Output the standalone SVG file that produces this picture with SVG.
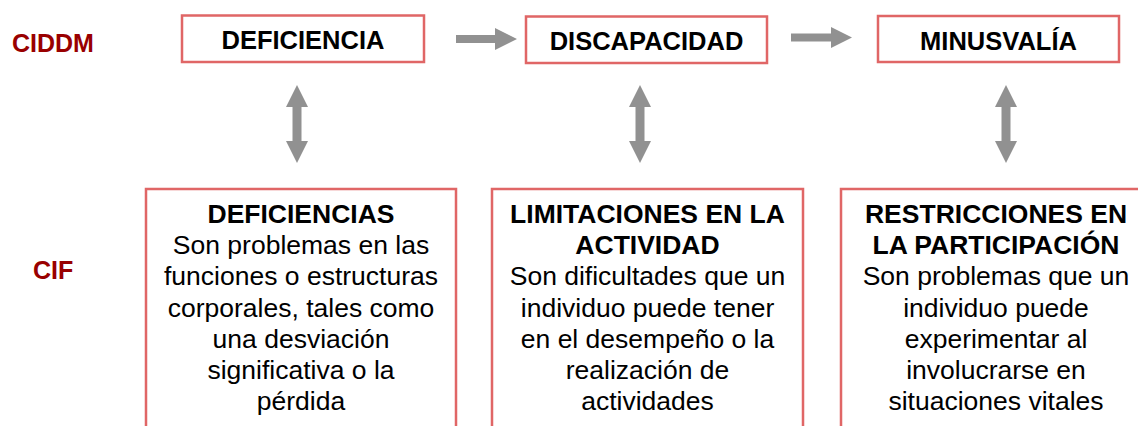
<svg xmlns="http://www.w3.org/2000/svg" width="1138" height="426" viewBox="0 0 1138 426">
<style>
.box{fill:#ffffff;stroke:#e06666;stroke-width:2.5}
.t{font-family:"Liberation Sans",Arial,sans-serif;fill:#000;text-anchor:middle}
.h{font-weight:bold;font-size:25.5px}
.hb{font-weight:bold;font-size:26.5px}
.b{font-size:26.5px}
.lab{font-family:"Liberation Sans",Arial,sans-serif;font-weight:bold;font-size:25px;fill:#990000}
.arr{fill:#919191}
</style>
<rect width="1138" height="426" fill="#ffffff"/>
<text class="lab" x="12" y="52">CIDDM</text>
<text class="lab" x="33" y="279">CIF</text>
<g id="connectors">
  <polygon class="arr" points="456,35 495,35 495,28 517,39 495,50 495,43 456,43"/>
  <polygon class="arr" points="791,33.5 831,33.5 831,27 852,37.5 831,48 831,41.5 791,41.5"/>
  <polygon class="arr" points="297,85 308,107 301.5,107 301.5,141 308,141 297,163 286,141 292.5,141 292.5,107 286,107"/>
  <polygon class="arr" points="640,85 651,107 644.5,107 644.5,141 651,141 640,163 629,141 635.5,141 635.5,107 629,107"/>
  <polygon class="arr" points="1006,85 1017,107 1010.5,107 1010.5,141 1017,141 1006,163 995,141 1001.5,141 1001.5,107 995,107"/>
</g>
<g id="deficiencia">
  <rect class="box" x="182" y="15.5" width="242" height="46.5"/>
  <text class="t h" x="303" y="48.5">DEFICIENCIA</text>
</g>
<g id="discapacidad">
  <rect class="box" x="526" y="16.5" width="241" height="46.5"/>
  <text class="t h" x="646.5" y="49.5">DISCAPACIDAD</text>
</g>
<g id="minusvalia">
  <rect class="box" x="878" y="16" width="241" height="46"/>
  <text class="t h" x="998.5" y="49.5">MINUSVALÍA</text>
</g>
<g id="deficiencias">
  <rect class="box" x="146" y="189" width="310" height="260"/>
  <text class="t hb" x="301" y="223">DEFICIENCIAS</text>
  <text class="t b" x="301" y="254">Son problemas en las</text>
  <text class="t b" x="301" y="285">funciones o estructuras</text>
  <text class="t b" x="301" y="316.5">corporales, tales como</text>
  <text class="t b" x="301" y="347.5">una desviación</text>
  <text class="t b" x="301" y="379">significativa o la</text>
  <text class="t b" x="301" y="410">pérdida</text>
</g>
<g id="limitaciones">
  <rect class="box" x="492" y="189" width="311" height="260"/>
  <text class="t hb" x="647.5" y="223">LIMITACIONES EN LA</text>
  <text class="t hb" x="647.5" y="254">ACTIVIDAD</text>
  <text class="t b" x="647.5" y="285">Son dificultades que un</text>
  <text class="t b" x="647.5" y="316.5">individuo puede tener</text>
  <text class="t b" x="647.5" y="347.5">en el desempeño o la</text>
  <text class="t b" x="647.5" y="379">realización de</text>
  <text class="t b" x="647.5" y="410">actividades</text>
</g>
<g id="restricciones">
  <rect class="box" x="841" y="189" width="310" height="260"/>
  <text class="t hb" x="996" y="223">RESTRICCIONES EN</text>
  <text class="t hb" x="996" y="254">LA PARTICIPACIÓN</text>
  <text class="t b" x="996" y="285">Son problemas que un</text>
  <text class="t b" x="996" y="316.5">individuo puede</text>
  <text class="t b" x="996" y="347.5">experimentar al</text>
  <text class="t b" x="996" y="379">involucrarse en</text>
  <text class="t b" x="996" y="410">situaciones vitales</text>
</g>
</svg>
